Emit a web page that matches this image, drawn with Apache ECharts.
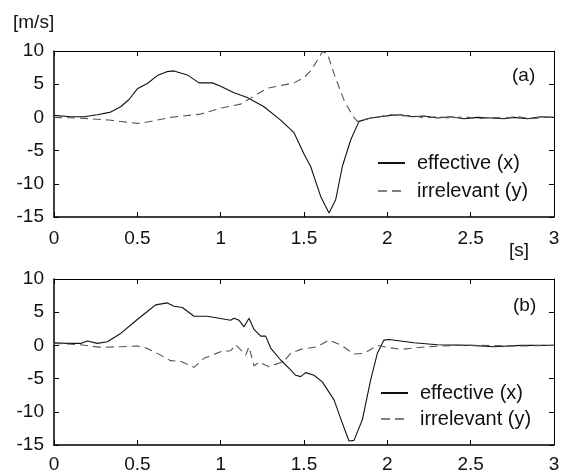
<!DOCTYPE html>
<html>
<head>
<meta charset="utf-8">
<script src="https://cdn.jsdelivr.net/npm/echarts@6/dist/echarts.min.js"></script>
<style>
  html, body { margin: 0; padding: 0; background: #fff; }
  #chart { width: 564px; height: 475px; }
</style>
</head>
<body>
<div id="chart"></div>
<script>
// panel (a)
const effA_t = [0, 0.1, 0.18, 0.26, 0.34, 0.4, 0.45, 0.5, 0.56, 0.62, 0.68, 0.72, 0.8, 0.87, 0.95, 1.0, 1.08, 1.16, 1.26, 1.36, 1.44, 1.5, 1.54, 1.6, 1.65, 1.69, 1.73, 1.78, 1.83, 1.9, 1.96, 2.02, 2.08, 2.15, 2.22, 2.3, 2.38, 2.46, 2.54, 2.62, 2.7, 2.76, 2.84, 2.92, 3.0]
const effA_v = [0.3, 0.1, 0.1, 0.4, 0.8, 1.6, 2.7, 4.3, 5.1, 6.3, 6.9, 7.0, 6.4, 5.2, 5.2, 4.7, 3.7, 3.0, 1.6, -0.4, -2.3, -5.5, -7.4, -11.9, -14.4, -12.4, -7.4, -3.4, -0.6, -0.1, 0.1, 0.3, 0.4, 0.1, 0.2, -0.1, 0.1, -0.2, 0.0, -0.1, -0.2, 0.0, -0.2, 0.1, 0.0]
const irrA_t = [0, 0.15, 0.33, 0.5, 0.56, 0.7, 0.88, 1.0, 1.12, 1.18, 1.28, 1.38, 1.44, 1.5, 1.54, 1.58, 1.61, 1.64, 1.68, 1.74, 1.79, 1.82, 1.88, 1.95, 2.02, 2.08, 2.15, 2.22, 2.3, 2.38, 2.46, 2.54, 2.62, 2.7, 2.78, 2.86, 2.94, 3.0]
const irrA_v = [0.0, -0.1, -0.4, -0.9, -0.7, 0.0, 0.5, 1.4, 2.0, 2.9, 4.4, 4.9, 5.2, 6.0, 7.0, 8.6, 9.9, 9.6, 6.6, 2.6, 0.3, -0.6, -0.2, 0.1, 0.4, 0.2, 0.3, -0.1, 0.1, -0.1, 0.1, -0.2, 0.0, -0.1, 0.1, -0.2, 0.0, 0.0]

// panel (b)
const effB_t = [0, 0.08, 0.16, 0.2, 0.26, 0.32, 0.4, 0.5, 0.56, 0.61, 0.68, 0.72, 0.77, 0.84, 0.92, 1.06, 1.08, 1.11, 1.14, 1.17, 1.2, 1.24, 1.27, 1.3, 1.36, 1.42, 1.45, 1.48, 1.51, 1.56, 1.61, 1.68, 1.73, 1.77, 1.8, 1.85, 1.9, 1.94, 1.98, 2.01, 2.16, 2.3, 2.5, 2.64, 2.8, 3.0]
const effB_v = [0.4, 0.3, 0.3, 0.65, 0.3, 0.55, 1.8, 3.9, 5.1, 6.1, 6.4, 5.9, 5.7, 4.4, 4.4, 3.8, 4.1, 3.8, 2.8, 4.1, 2.4, 1.4, 1.4, -0.4, -2.2, -3.7, -4.5, -4.7, -4.1, -4.5, -5.5, -8.2, -11.7, -14.4, -14.3, -11.2, -5.2, -1.2, 0.8, 0.9, 0.4, 0.1, 0.0, -0.2, 0.0, 0.0]
const irrB_t = [0, 0.16, 0.28, 0.5, 0.56, 0.62, 0.7, 0.76, 0.84, 0.9, 1.0, 1.06, 1.09, 1.15, 1.17, 1.2, 1.23, 1.29, 1.38, 1.42, 1.48, 1.58, 1.65, 1.72, 1.8, 1.86, 1.94, 2.0, 2.08, 2.24, 2.4, 2.56, 2.8, 3.0]
const irrB_v = [0.3, 0.1, -0.3, -0.1, -0.45, -1.2, -2.3, -2.4, -3.3, -1.95, -0.95, -0.8, 0.1, -1.45, -0.2, -3.1, -2.5, -3.2, -2.4, -1.2, -0.6, -0.2, 0.8, 0.1, -1.3, -1.2, 0.0, -0.3, -0.6, -0.2, 0.0, 0.0, -0.1, 0.0]

const xTicks = [0, 3, 0.5]      // min, max, interval
const yTicks = [-15, 10, 5]
const names = ['effective (x)', 'irrelevant (y)']

const pairs = (t, v) => t.map((x, i) => [x, v[i]])

const chart = echarts.init(document.getElementById('chart'))
const font = 'Liberation Sans, Arial, sans-serif'
const fs = 19

const grids = [
  { left: 54, top: 51, width: 500, height: 166 },
  { left: 54, top: 279, width: 500, height: 166 }
]

const xAxes = []
const yAxes = []
grids.forEach((g, i) => {
  xAxes.push({
    gridIndex: i, type: 'value', position: 'bottom',
    min: xTicks[0], max: xTicks[1], interval: xTicks[2],
    axisLine: { onZero: false, lineStyle: { color: '#000', width: 1.5 } },
    axisTick: { inside: true, length: 5, lineStyle: { color: '#000' } },
    axisLabel: { color: '#111', fontSize: fs, fontFamily: font, margin: i === 0 ? 12 : 10 },
    splitLine: { show: false }
  })
  xAxes.push({
    gridIndex: i, type: 'value', position: 'top',
    min: xTicks[0], max: xTicks[1], interval: xTicks[2],
    axisLine: { onZero: false, lineStyle: { color: '#000', width: 1 } },
    axisTick: { inside: true, length: 5, lineStyle: { color: '#000' } },
    axisLabel: { show: false },
    splitLine: { show: false }
  })
  yAxes.push({
    gridIndex: i, type: 'value', position: 'left',
    min: yTicks[0], max: yTicks[1], interval: yTicks[2],
    axisLine: { show: true, onZero: false, lineStyle: { color: '#000', width: 1.5 } },
    axisTick: { show: true, inside: true, length: 5, lineStyle: { color: '#000' } },
    axisLabel: { color: '#111', fontSize: fs, fontFamily: font, margin: 10 },
    splitLine: { show: false }
  })
  yAxes.push({
    gridIndex: i, type: 'value', position: 'right',
    min: yTicks[0], max: yTicks[1], interval: yTicks[2],
    axisLine: { show: true, onZero: false, lineStyle: { color: '#000', width: 1 } },
    axisTick: { show: true, inside: true, length: 5, lineStyle: { color: '#000' } },
    axisLabel: { show: false },
    splitLine: { show: false }
  })
})

const solid = { color: '#111', width: 1.1 }
const dashed = { color: '#555', width: 1.1, type: [8, 5] }

const legendData = [
  { name: names[0], itemStyle: { opacity: 0 }, lineStyle: { width: 2, color: '#111' } },
  { name: names[1], itemStyle: { opacity: 0 }, lineStyle: { width: 1.6, color: '#555', type: [9, 5] } }
]
const legendBase = {
  data: legendData, orient: 'vertical', itemWidth: 27, itemHeight: 14,
  textStyle: { color: '#111', fontSize: 20, fontFamily: font, padding: [0, 0, 0, 7] }
}

chart.setOption({
  animation: false,
  grid: grids,
  xAxis: xAxes,
  yAxis: yAxes,
  legend: [
    Object.assign({}, legendBase, { left: 372, top: 148, itemGap: 8 }),
    Object.assign({}, legendBase, { left: 375, top: 378, itemGap: 6 })
  ],
  graphic: [
    { type: 'text', left: 13, top: 13, style: { text: '[m/s]', fontSize: fs, fontFamily: font, fill: '#111' } },
    { type: 'text', left: 509, top: 241, style: { text: '[s]', fontSize: fs, fontFamily: font, fill: '#111' } },
    { type: 'text', left: 512, top: 66, style: { text: '(a)', fontSize: fs, fontFamily: font, fill: '#111' } },
    { type: 'text', left: 513, top: 296, style: { text: '(b)', fontSize: fs, fontFamily: font, fill: '#111' } }
  ],
  series: [
    { name: names[0], type: 'line', xAxisIndex: 0, yAxisIndex: 0, data: pairs(effA_t, effA_v), symbol: 'none', lineStyle: solid, itemStyle: { color: '#111' } },
    { name: names[1], type: 'line', xAxisIndex: 0, yAxisIndex: 0, data: pairs(irrA_t, irrA_v), symbol: 'none', lineStyle: dashed, itemStyle: { color: '#555' } },
    { name: names[0], type: 'line', xAxisIndex: 2, yAxisIndex: 2, data: pairs(effB_t, effB_v), symbol: 'none', lineStyle: solid, itemStyle: { color: '#111' } },
    { name: names[1], type: 'line', xAxisIndex: 2, yAxisIndex: 2, data: pairs(irrB_t, irrB_v), symbol: 'none', lineStyle: dashed, itemStyle: { color: '#555' } }
  ]
})
</script>
</body>
</html>
